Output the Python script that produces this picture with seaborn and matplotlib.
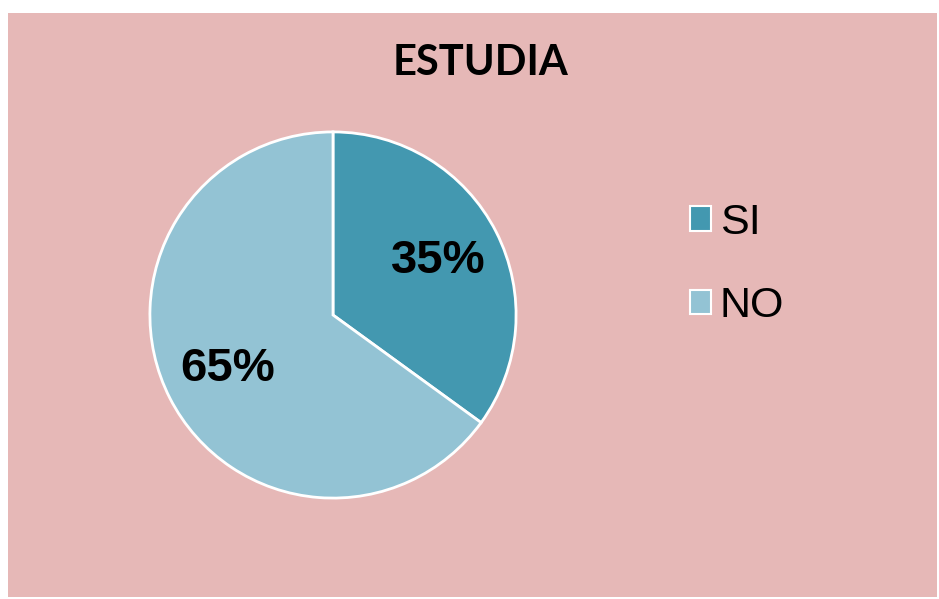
import matplotlib.pyplot as plt
import matplotlib.patches as mpatches
import seaborn as sns

# Data
categorias = ['SI', 'NO']
porcentajes = [35, 65]
colores = ['#4398B0', '#93C3D4']
titulo = 'ESTUDIA'

sns.set_style('white')
plt.rcParams['font.family'] = ['Liberation Sans', 'DejaVu Sans']
plt.rcParams['text.color'] = 'black'

W, H = 939, 599
fig = plt.figure(figsize=(W / 100, H / 100), dpi=100)
fig.patch.set_facecolor('white')

# pink chart area
fig.patches.append(mpatches.Rectangle((8 / W, 1 - 597 / H), (937 - 8) / W, (597 - 13) / H,
                                      transform=fig.transFigure, facecolor='#E6B8B7',
                                      edgecolor='none', zorder=-5))

# pie axes: center (333, 315) px, radius 184 px
cx, cy, r = 333, 315, 184
ax = fig.add_axes([(cx - r) / W, 1 - (cy + r) / H, 2 * r / W, 2 * r / H], zorder=2)
ax.set_facecolor('none')
wedges, _, autotexts = ax.pie(porcentajes, colors=colores, startangle=90, counterclock=False,
                              autopct='%1.0f%%', pctdistance=0.645,
                              wedgeprops=dict(edgecolor='white', linewidth=2),
                              textprops=dict(fontsize=34, fontweight='bold', color='black'))
ax.set_xlim(-1.005, 1.005)
ax.set_ylim(-1.005, 1.005)
ax.axis('off')

fig.text(480 / W, 1 - 63 / H, titulo, ha='center', va='center', fontsize=30,
         fontweight='bold', family=['Lato', 'DejaVu Sans'], color='black', zorder=3)

leg = fig.legend(wedges, categorias, loc='upper left', bbox_to_anchor=(651 / W, 1 - 164 / H),
                 frameon=False, fontsize=31, handlelength=0.5, handleheight=0.5,
                 handletextpad=0.2, labelspacing=1.01)
leg.set_zorder(3)
for h in leg.legend_handles:
    h.set_edgecolor('white')
    h.set_linewidth(1.5)
for t in leg.get_texts():
    t.set_color('black')

fig.savefig('out.png', dpi=100, facecolor='white')
